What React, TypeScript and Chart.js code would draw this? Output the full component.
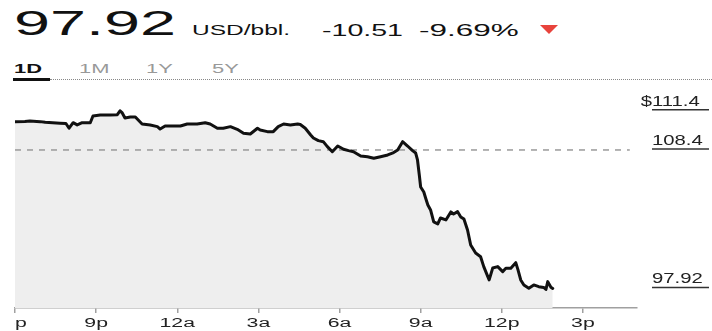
import React, { useEffect, useRef } from "react";
import { Chart, registerables } from "chart.js";

Chart.register(...registerables);

// ---- data (minutes after 6p, price in USD/bbl.) ----
const TIMES = [
  0, 22, 33, 56, 67, 100, 113, 120, 129, 138, 149, 167, 173, 189, 211, 227, 233, 238, 244, 256,
  267, 282, 300, 316, 322, 333, 367, 382, 404, 422, 433, 449, 462, 478, 493, 507, 522, 538, 544, 560,
  573, 584, 596, 611, 627, 633, 644, 656, 662, 673, 684, 693, 704, 716, 729, 740, 751, 767, 782, 796,
  811, 827, 840, 849, 860, 871, 882, 889, 893, 897, 900, 907, 911, 916, 922, 929, 938, 944, 956, 967,
  973, 982, 989, 996, 1004, 1011, 1022, 1033, 1040, 1049, 1052, 1060, 1071, 1082, 1089, 1100, 1111, 1116, 1122, 1129,
  1140, 1151, 1162, 1173, 1178, 1182, 1189, 1193,
];
const PRICES = [
  110.58, 110.59, 110.63, 110.58, 110.53, 110.46, 110.44, 110.08, 110.5, 110.33, 110.5, 110.5, 111.01, 111.09, 111.09, 111.11, 111.4, 111.24, 110.86, 110.93,
  110.93, 110.4, 110.33, 110.2, 110.02, 110.25, 110.25, 110.4, 110.4, 110.5, 110.4, 110.08, 110.08, 110.2, 110.0, 109.7, 109.64, 110.08, 109.95, 109.82,
  109.82, 110.2, 110.4, 110.33, 110.4, 110.36, 110.08, 109.57, 109.34, 109.14, 109.06, 108.68, 108.3, 108.73, 108.48, 108.38, 108.3, 107.97, 107.92, 107.8,
  107.92, 108.05, 108.23, 108.43, 109.06, 108.73, 108.38, 108.2, 107.67, 106.53, 105.62, 105.24, 104.79, 104.26, 103.88, 102.97, 102.82, 103.27, 103.12, 103.73,
  103.57, 103.75, 103.35, 103.19, 102.36, 101.22, 100.61, 100.33, 99.58, 98.82, 98.57, 99.48, 99.58, 99.2, 99.45, 99.45, 99.88, 99.33, 98.57, 98.19,
  97.94, 98.19, 98.06, 98.0, 97.85, 98.44, 98.01, 97.92,
];
const PREV_CLOSE = 108.43;
const PREV_CLOSE_SPAN = [0, 1364];
const X_TICKS = [0, 180, 360, 540, 720, 900, 1080, 1260];
const X_TICK_LABELS = ["6p", "9p", "12a", "3a", "6a", "9a", "12p", "3p"];
const X_RANGE = [0, 1380];
const Y_RANGE = [96.44, 112.98];
const Y_MARK_VALUES = [111.4, 108.43, 97.92];
const Y_MARK_LABELS = ["$111.4", "108.4", "97.92"];

const PRICE_TEXT = "97.92";
const UNIT_TEXT = "USD/bbl.";
const CHANGE_TEXT = "-10.51";
const CHANGE_PCT_TEXT = "-9.69%";
const TABS = ["1D", "1M", "1Y", "5Y"];

const FONT = '"Liberation Sans", Arial, Helvetica, sans-serif';

function Txt(props: {
  text: string;
  x: number;
  baseline: number;
  size: number;
  sx: number;
  color?: string;
  weight?: number;
}) {
  const { text, x, baseline, size, sx, color = "#111", weight = 400 } = props;
  return (
    <span
      style={{
        position: "absolute",
        left: x,
        top: baseline - 0.8465 * size,
        fontFamily: FONT,
        fontSize: size,
        lineHeight: `${size}px`,
        fontWeight: weight,
        color,
        whiteSpace: "nowrap",
        transform: `scaleX(${sx})`,
        transformOrigin: "0 0",
      }}
    >
      {text}
    </span>
  );
}

const labelPlugin = {
  id: "customLabels",
  afterDraw(chart: any) {
    const ctx = chart.ctx as CanvasRenderingContext2D;
    const xs = chart.scales.x;
    const ys = chart.scales.y;
    const area = chart.chartArea;
    ctx.save();
    // x tick labels
    ctx.font = `12.5px ${FONT}`;
    ctx.fillStyle = "#222";
    ctx.textAlign = "center";
    ctx.textBaseline = "alphabetic";
    X_TICKS.forEach((v, i) => {
      const px = xs.getPixelForValue(v);
      ctx.save();
      ctx.translate(px, area.bottom + 19);
      ctx.scale(1.7, 1);
      ctx.fillText(X_TICK_LABELS[i], 0, 0);
      ctx.restore();
    });
    // right-hand value labels
    ctx.font = `14px ${FONT}`;
    ctx.textAlign = "left";
    const lx = area.right + 15;
    Y_MARK_VALUES.forEach((v, i) => {
      const py = ys.getPixelForValue(v);
      let text = Y_MARK_LABELS[i];
      ctx.save();
      ctx.translate(lx, py - 5);
      ctx.scale(1.45, 1);
      ctx.fillStyle = "#222";
      if (text.startsWith("$")) {
        const w = ctx.measureText("$").width;
        ctx.fillText("$", -w, 0);
        text = text.slice(1);
      }
      ctx.fillText(text, 0, 0);
      ctx.restore();
      ctx.beginPath();
      ctx.strokeStyle = "#333";
      ctx.lineWidth = 1.5;
      ctx.moveTo(lx, py - 1);
      ctx.lineTo(lx + 57, py - 1);
      ctx.stroke();
    });
    ctx.restore();
  },
};

function PriceChart() {
  const ref = useRef<HTMLCanvasElement | null>(null);
  useEffect(() => {
    if (!ref.current) return;
    const chart = new Chart(ref.current, {
      type: "line",
      data: {
        datasets: [
          {
            data: TIMES.map((t, i) => ({ x: t, y: PRICES[i] })),
            borderColor: "#111",
            borderWidth: 3,
            borderJoinStyle: "round",
            borderCapStyle: "round",
            backgroundColor: "#eeeeee",
            fill: "start",
            pointRadius: 0,
            tension: 0,
          },
          {
            data: PREV_CLOSE_SPAN.map((t) => ({ x: t, y: PREV_CLOSE })),
            borderColor: "#9a9a9a",
            borderWidth: 1.5,
            borderDash: [6, 6],
            fill: false,
            pointRadius: 0,
          },
        ],
      },
      options: {
        animation: false,
        responsive: false,
        devicePixelRatio: 1,
        layout: { padding: { left: 1, right: 75, top: 2, bottom: 18 } },
        plugins: {
          legend: { display: false },
          tooltip: { enabled: false },
          filler: { drawTime: "beforeDatasetsDraw" },
        },
        scales: {
          x: {
            type: "linear",
            min: X_RANGE[0],
            max: X_RANGE[1],
            afterBuildTicks: (s: any) => {
              s.ticks = X_TICKS.map((v) => ({ value: v }));
            },
            afterFit: (s: any) => {
              s.paddingLeft = 0;
              s.paddingRight = 0;
            },
            ticks: { display: false },
            grid: {
              display: true,
              drawOnChartArea: false,
              drawTicks: true,
              tickLength: 5,
              color: "#a0a0a0",
              lineWidth: 1.5,
            },
            border: { display: true, color: "#a0a0a0", width: 1.5 },
          },
          y: {
            type: "linear",
            display: false,
            min: Y_RANGE[0],
            max: Y_RANGE[1],
          },
        },
      } as any,
      plugins: [labelPlugin],
    });
    return () => chart.destroy();
  }, []);
  return <canvas ref={ref} width={698} height={243} style={{ width: 698, height: 243, display: "block" }} />;
}

export default function App() {
  return (
    <div
      style={{
        position: "absolute",
        left: 0,
        top: 0,
        width: 712,
        height: 331,
        background: "#fff",
        overflow: "hidden",
      }}
    >
      <Txt text={PRICE_TEXT} x={14} baseline={35} size={35} sx={1.85} />
      <Txt text={UNIT_TEXT} x={192} baseline={35} size={14} sx={1.75} />
      <Txt text={CHANGE_TEXT} x={322} baseline={36} size={17} sx={1.68} />
      <Txt text={CHANGE_PCT_TEXT} x={419} baseline={36} size={17} sx={1.85} />
      <svg style={{ position: "absolute", left: 538, top: 24 }} width={22} height={12}>
        <polygon points="2,1 20,1 11,10" fill="#e8433c" />
      </svg>
      {TABS.map((t, i) => (
        <Txt
          key={t}
          text={t}
          x={[14, 79, 146, 212][i]}
          baseline={74}
          size={12.5}
          sx={1.75}
          weight={i === 0 ? 700 : 400}
          color={i === 0 ? "#111" : "#999"}
        />
      ))}
      <div style={{ position: "absolute", left: 13, top: 78, width: 37, height: 3, background: "#111" }} />
      <div style={{ position: "absolute", left: 50, top: 79, width: 662, height: 0, borderTop: "1px dotted #888" }} />
      <div style={{ position: "absolute", left: 14, top: 88, width: 698, height: 243 }}>
        <PriceChart />
      </div>
    </div>
  );
}
